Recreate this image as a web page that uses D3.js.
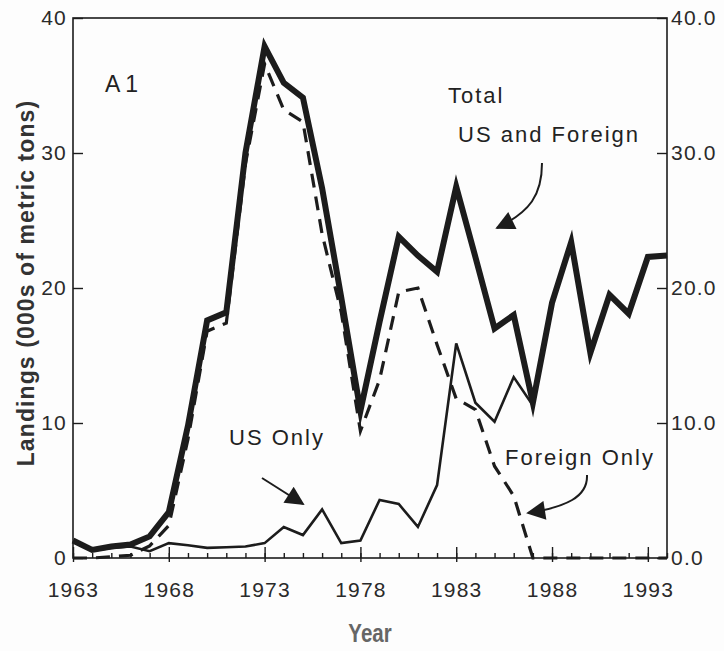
<!DOCTYPE html>
<html>
<head>
<meta charset="utf-8">
<script src="https://cdn.jsdelivr.net/npm/d3@7"></script>
<style>
	body { margin: 0; background: #fdfdfd; }
	svg text { font-family: "Liberation Sans", Arial, sans-serif; }
</style>
</head>
<body>
<script>
// values, 000s of metric tons
var years = [1963,1964,1965,1966,1967,1968,1969,1970,1971,1972,1973,1974,1975,1976,1977,1978,
	1979,1980,1981,1982,1983,1984,1985,1986,1987,1988,1989,1990,1991,1992,1993,1994];
var total = [1.3,0.6,0.85,1.0,1.6,3.4,9.8,17.6,18.2,30.0,37.9,35.2,34.1,27.4,19.3,10.9,
	17.5,23.8,22.4,21.2,27.5,22.3,17.0,18.0,11.5,18.9,23.4,15.2,19.5,18.1,22.3,22.4];
var usOnly = [1.25,0.55,0.75,0.85,0.5,1.1,0.95,0.75,0.8,0.85,1.1,2.3,1.7,3.6,1.1,1.3,
	4.3,4.0,2.3,5.4,15.9,11.5,10.1,13.4,11.3,18.9,23.4,15.2,19.5,18.1,22.3,22.4];
var foreignOnly = [0,0,0.1,0.2,0.9,2.4,8.8,16.8,17.4,29.2,36.6,33.2,32.3,24.0,18.2,9.4,
	13.2,19.7,20.0,15.8,11.8,11.0,6.8,4.6,0,0,0,0,0,0,0,0];
var yTicks = [0,10,20,30,40];
var majorYears = [1963,1968,1973,1978,1983,1988,1993];

var w = 724;
var h = 651;
var pl = 73, pr = 667, pt = 18, pb = 558;
var ink = "#1c1c1c";

var svg = d3.select("body")
	.append("svg")
	.attr("width", w)
	.attr("height", h);

var x = d3.scaleLinear().domain([1963, 1994]).range([pl, pr]);
var y = d3.scaleLinear().domain([0, 40]).range([pb, pt]);

// frame
svg.append("rect")
	.attr("x", pl).attr("y", pt)
	.attr("width", pr - pl).attr("height", pb - pt)
	.attr("fill", "none").attr("stroke", ink).attr("stroke-width", 1.6);

// left axis, ticks pointing in
var gl = svg.append("g")
	.attr("transform", "translate(" + pl + ",0)")
	.call(d3.axisLeft(y).tickValues(yTicks).tickSize(-10).tickPadding(6));
// right axis
var gr = svg.append("g")
	.attr("transform", "translate(" + pr + ",0)")
	.call(d3.axisRight(y).tickValues(yTicks).tickSize(-10).tickPadding(4).tickFormat(d3.format(".1f")));
// minor year ticks
var gm = svg.append("g")
	.attr("transform", "translate(0," + pb + ")")
	.call(d3.axisBottom(x).tickValues(d3.range(1963, 1995)).tickSize(-5).tickFormat(""));
// major year ticks with labels
var gb = svg.append("g")
	.attr("transform", "translate(0," + pb + ")")
	.call(d3.axisBottom(x).tickValues(majorYears).tickSize(-11).tickPadding(24).tickFormat(d3.format("d")));
gb.selectAll(".tick line").attr("y1", 4);

[gl, gr, gm, gb].forEach(function(g) {
	g.select(".domain").remove();
	g.selectAll(".tick line").attr("stroke", ink).attr("stroke-width", 1.4);
	g.selectAll("text").attr("font-size", 21).attr("letter-spacing", 1.2).attr("fill", "#2a2a2a");
});

// series
var line = d3.line()
	.x(function(d, i) { return x(years[i]); })
	.y(function(d) { return y(d); });

svg.append("path")
	.datum(foreignOnly)
	.attr("d", line)
	.attr("fill", "none").attr("stroke", ink)
	.attr("stroke-width", 3.2).attr("stroke-dasharray", "14,9");

svg.append("path")
	.datum(usOnly)
	.attr("d", line)
	.attr("fill", "none").attr("stroke", ink)
	.attr("stroke-width", 2.6).attr("stroke-linejoin", "miter");

svg.append("path")
	.datum(total)
	.attr("d", line)
	.attr("fill", "none").attr("stroke", ink)
	.attr("stroke-width", 6).attr("stroke-linejoin", "miter").attr("stroke-miterlimit", 10);

// titles
svg.append("text")
	.attr("transform", "translate(34,283) rotate(-90)")
	.attr("text-anchor", "middle")
	.attr("font-size", 23).attr("font-weight", "bold").attr("fill", "#333")
	.attr("letter-spacing", 1.1)
	.text("Landings (000s of metric tons)");

// condensed heavy "Year"
svg.append("text")
	.attr("transform", "translate(370,642) scale(0.82,1)")
	.attr("text-anchor", "middle")
	.attr("font-size", 25).attr("font-weight", "bold").attr("fill", "#666")
	.text("Year");

svg.append("text")
	.attr("x", 105).attr("y", 92)
	.attr("font-size", 23).attr("fill", "#222")
	.attr("letter-spacing", 5)
	.text("A1");

// annotations
var notes = [
	{t: "Total", x: 448, y: 103},
	{t: "US and Foreign", x: 458, y: 142},
	{t: "US Only", x: 229, y: 445},
	{t: "Foreign Only", x: 505, y: 465}
];
svg.selectAll(".note")
	.data(notes)
	.enter()
	.append("text")
	.attr("class", "note")
	.attr("x", function(d) { return d.x; })
	.attr("y", function(d) { return d.y; })
	.attr("font-size", 22).attr("fill", "#222")
	.attr("letter-spacing", 2)
	.text(function(d) { return d.t; });

svg.append("defs").append("marker")
	.attr("id", "head")
	.attr("viewBox", "0 0 10 10")
	.attr("refX", 9).attr("refY", 5)
	.attr("markerWidth", 22).attr("markerHeight", 19)
	.attr("markerUnits", "userSpaceOnUse")
	.attr("orient", "auto")
	.append("path")
	.attr("d", "M0,0L10,5L0,10Z")
	.attr("fill", ink);

var arrows = [
	"M542,163C542,195 530,212 497,228",
	"M262,478L303,504",
	"M587,475C588,497 566,507 528,513"
];
svg.selectAll(".arrow")
	.data(arrows)
	.enter()
	.append("path")
	.attr("class", "arrow")
	.attr("d", function(d) { return d; })
	.attr("fill", "none").attr("stroke", ink).attr("stroke-width", 2)
	.attr("marker-end", "url(#head)");
</script>
</body>
</html>
